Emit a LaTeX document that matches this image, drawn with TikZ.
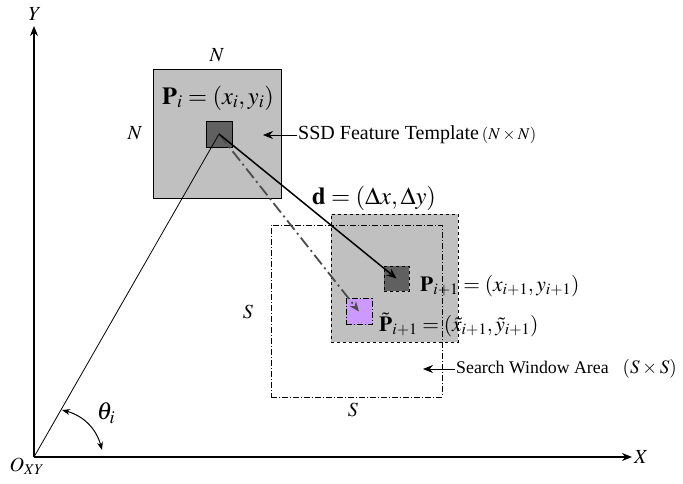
\documentclass[tikz,border=0pt]{standalone}
\usepackage{mathptmx}
\usepackage{fontspec}
\setmainfont{Liberation Serif}
\usetikzlibrary{arrows.meta}
\definecolor{lgray}{HTML}{C0C0C0}
\definecolor{dgray}{HTML}{606060}
\definecolor{pinkish}{HTML}{CC99FF}
\tikzset{
  sq/.style={draw=black, inner sep=0pt, outer sep=0pt},
  bigmath/.style={font=\fontsize{24.5}{28}\selectfont, inner sep=0pt},
  midmath/.style={font=\fontsize{21.5}{25}\selectfont, inner sep=0pt},
  letter/.style={font=\fontsize{20}{24}\selectfont, inner sep=0pt},
  note/.style={inner sep=0pt, anchor=west},
  tip/.style={-{Stealth[length=10pt,width=8pt]}},
  dashdot/.style={dash pattern=on 6pt off 2pt on 1pt off 2pt},
}
\begin{document}
\begin{tikzpicture}[x=1pt,y=-1pt]
\useasboundingbox (0,0) rectangle (683,483);
% axes
\coordinate (O) at (34,457);
\coordinate (Xe) at (632,457);
\coordinate (Ye) at (34,26);
\draw[line width=1.2pt, tip] (O) -- (Xe);
\draw[line width=1.2pt, tip] (O) -- (Ye);
\node[letter, anchor=west] (X) at (634,457) {$X$};
\node[letter] (Y) at (35,14) {$Y$};
\node[letter] (OXY) at (27,466) {$O_{XY}$};
% search region (gray, dashed)
\node[sq, fill=lgray, dashed, minimum width=127pt, minimum height=128pt] (srch) at (394.5,278) {};
% search window (dash dot)
\node[sq, dashdot, minimum width=171pt, minimum height=172pt] (win) at (356.5,311) {};
% template
\node[sq, fill=lgray, minimum width=128pt, minimum height=129pt] (tmpl) at (217,133.5) {};
\node[sq, fill=dgray, minimum size=26pt] (ptsq) at (219,134) {};
% new squares
\node[sq, fill=dgray, dashed, minimum size=25pt] (nsq) at (396.5,278.5) {};
\node[sq, fill=pinkish, dashdot, minimum size=26pt] (psq) at (359,311.5) {};
% lines
\draw[line width=0.8pt] (O) -- (ptsq.center);
\draw[line width=1.8pt, draw=black!70, dash pattern=on 12pt off 4pt on 2pt off 4pt, tip] (ptsq.center) -- (psq.center);
\draw[line width=1.5pt, tip] (ptsq.center) -- (nsq.center);
% labels
\node[letter] (Ntop) at (217,55) {$N$};
\node[letter] (Nleft) at (135,133) {$N$};
\node[bigmath] (Pi) at (218,98) {$\mathbf{P}_i=(x_i,y_i)$};
\node[bigmath] (dlab) at (374,198) {$\mathbf{d}=(\Delta x,\Delta y)$};
\node[midmath, anchor=west] (Pn) at (420,286) {$\mathbf{P}_{i+1}=(x_{i+1},y_{i+1})$};
\node[midmath, anchor=west] (Pt) at (379,325) {$\tilde{\mathbf{P}}_{i+1}=(\tilde{x}_{i+1},\tilde{y}_{i+1})$};
\node[letter] (Sleft) at (248,312) {$S$};
\node[letter] (Sbot) at (353,410) {$S$};
% annotations
\coordinate (ssdA) at (297,135);
\coordinate (ssdB) at (263,135);
\draw[line width=0.9pt, tip] (ssdA) -- (ssdB);
\node[note, font=\fontsize{20}{24}\selectfont] (ssd) at (298,135) {SSD Feature Template\hspace{3pt}{\fontsize{16.5}{19}\selectfont$(N\times N)$}};
\coordinate (swA) at (455,369);
\coordinate (swB) at (423,369);
\draw[line width=0.9pt, tip] (swA) -- (swB);
\node[note, font=\fontsize{17.8}{21}\selectfont] (sw) at (456,369) {Search Window Area\hspace{14pt}{\fontsize{19}{22}\selectfont$(S\times S)$}};
% angle
\coordinate (ta) at (62,410);
\coordinate (tb) at (102,450);
\draw[line width=1pt, {Stealth[length=8pt,width=6pt]}-{Stealth[length=8pt,width=6pt]}] (ta) to[bend left=30] (tb);
\node[bigmath] (th) at (106,413) {$\theta_i$};
\end{tikzpicture}
\end{document}
